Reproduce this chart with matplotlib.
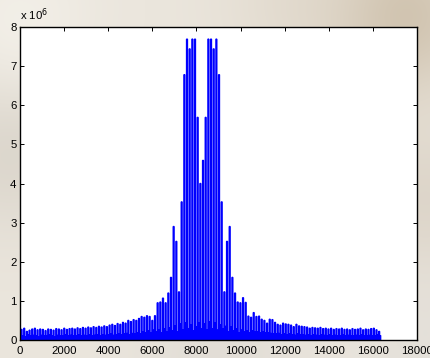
import numpy as np
import matplotlib
matplotlib.use("Agg")
import matplotlib.pyplot as plt
from matplotlib.colors import to_rgb

plt.rcParams['font.family'] = ['Liberation Sans', 'DejaVu Sans']

# Spectrum magnitude: one spike per harmonic bin (values in units of 1e6)
spike_start = 50
spike_step = 121
peak_mega = [
    0.27, 0.30, 0.22, 0.25, 0.28, 0.30, 0.26, 0.28, 0.27, 0.24, 0.28,
    0.27, 0.25, 0.29, 0.28, 0.26, 0.30, 0.27, 0.29, 0.30, 0.28,
    0.31, 0.29, 0.32, 0.30, 0.33, 0.31, 0.34, 0.32, 0.35, 0.33,
    0.36, 0.34, 0.38, 0.40, 0.37, 0.42, 0.40, 0.45, 0.43, 0.50,
    0.47, 0.52, 0.50, 0.55, 0.60, 0.58, 0.62, 0.60, 0.50, 0.62,
    0.95, 0.97, 1.07, 0.95, 1.20, 1.60, 2.90, 2.52, 1.23, 3.53,
    6.78, 7.69, 7.44, 7.69, 7.69, 5.69, 4.00, 4.59, 5.69,
    7.69, 7.69, 7.44, 7.69, 6.78, 3.53, 1.23, 2.52, 2.90, 1.60,
    1.20, 0.97, 0.95, 1.08, 0.96, 0.61, 0.58, 0.70, 0.60, 0.61,
    0.53, 0.50, 0.43, 0.53, 0.52, 0.45, 0.40, 0.38, 0.43, 0.41,
    0.40, 0.38, 0.34, 0.40, 0.36, 0.35, 0.34, 0.33, 0.30, 0.32,
    0.31, 0.30, 0.32, 0.29, 0.30, 0.28, 0.30, 0.27, 0.29, 0.28,
    0.30, 0.27, 0.28, 0.26, 0.29, 0.27, 0.28, 0.30, 0.26, 0.28,
    0.27, 0.29, 0.30, 0.26, 0.22,
]
# Smaller in-between components (units of 1e6)
minor_mega = [
    0.12, 0.10, 0.14, 0.11, 0.13, 0.12, 0.10, 0.13, 0.12, 0.11,
    0.14, 0.12, 0.10, 0.13, 0.12, 0.11, 0.14, 0.12, 0.13, 0.11,
    0.12, 0.14, 0.11, 0.13, 0.12, 0.15, 0.12, 0.13, 0.14, 0.12,
    0.15, 0.13, 0.14, 0.16, 0.13, 0.15, 0.17, 0.14, 0.16, 0.18,
    0.15,
    0.18, 0.16, 0.20, 0.17, 0.22, 0.19, 0.24, 0.20, 0.26, 0.22,
    0.28, 0.20, 0.30, 0.22, 0.32, 0.25,
    0.38, 0.22, 0.42, 0.28, 0.45, 0.30, 0.40, 0.25, 0.35, 0.45,
    0.30, 0.42, 0.28, 0.48, 0.30, 0.44, 0.26, 0.40, 0.30, 0.36,
    0.22, 0.34,
    0.24, 0.30, 0.20, 0.26, 0.22, 0.24, 0.20, 0.25, 0.22, 0.23,
    0.20, 0.21, 0.19, 0.20, 0.18, 0.17,
    0.16, 0.18, 0.15, 0.16, 0.14, 0.17, 0.15, 0.13, 0.16, 0.14,
    0.15, 0.13, 0.14, 0.12, 0.15, 0.13, 0.12, 0.14, 0.13, 0.11,
    0.14, 0.12, 0.13, 0.11, 0.12, 0.14, 0.12, 0.13, 0.11, 0.12,
    0.13, 0.12, 0.14, 0.11, 0.12, 0.13, 0.11, 0.12, 0.14, 0.12,
]
n = min(len(peak_mega), len(minor_mega))
peak_mega = peak_mega[:n]
minor_mega = minor_mega[:n]

x_ticks = [0, 2000, 4000, 6000, 8000, 10000, 12000, 14000, 16000, 18000]
y_ticks = [0, 1, 2, 3, 4, 5, 6, 7, 8]

# Build the spike trace
bins = spike_start + spike_step * np.arange(n)
xs, ys = [], []
for b, h, m in zip(bins, peak_mega, minor_mega):
    xs += [b, b, b + 40, b + 40, b + 78, b + 80, b + 82]
    ys += [0.0, h, h, 0.0, 0.0, m, 0.0]

W, H = 431, 358
fig = plt.figure(figsize=(W / 100, H / 100), dpi=100)

# Soft textured backdrop
bg = fig.add_axes([0, 0, 1, 1])
yy, xx = np.mgrid[0:H, 0:W]
img = np.ones((H, W, 3)) * np.array(to_rgb('#ebe6dd'))
blobs = [
    (400, 15, 60, '#c9baa3', 0.8),
    (300, 0, 60, '#ddd4c6', 0.5),
    (10, 150, 60, '#d6d0c6', 0.7),
    (425, 200, 60, '#d8cfc2', 0.7),
    (20, 20, 50, '#f4f1ea', 0.8),
    (220, 358, 60, '#dcd8d2', 0.6),
    (425, 340, 50, '#e0ddd8', 0.6),
]
for cx, cy, r, col, a in blobs:
    w = a * np.exp(-((xx - cx) ** 2 + (yy - cy) ** 2) / (2 * r ** 2))
    img = img * (1 - w[..., None]) + np.array(to_rgb(col)) * w[..., None]
bg.imshow(img, aspect='auto', extent=[0, W, H, 0])
bg.set_axis_off()

ax = fig.add_axes([20 / W, 18 / H, 397 / W, 313 / H])
ax.set_facecolor('white')
ax.plot(xs, ys, color='#0000ff', lw=1.0, solid_joinstyle='miter')
ax.set_xlim(0, 18000)
ax.set_ylim(0, 8)
ax.set_xticks(x_ticks)
ax.set_yticks(y_ticks)
ax.set_xticklabels([str(t) for t in x_ticks])
ax.set_yticklabels([str(t) for t in y_ticks])
ax.tick_params(direction='in', length=3, width=0.7, top=True, right=True,
               labelsize=8.2, colors='black')
ax.tick_params(axis='x', pad=4.5)
ax.tick_params(axis='y', pad=2.5)
for s in ax.spines.values():
    s.set_linewidth(1.0)
    s.set_color('black')

fig.text(20 / W, (H - 23) / H, 'x 10$^{6}$', fontsize=8.2, ha='left', va='bottom')

fig.savefig('out.png', dpi=100)
